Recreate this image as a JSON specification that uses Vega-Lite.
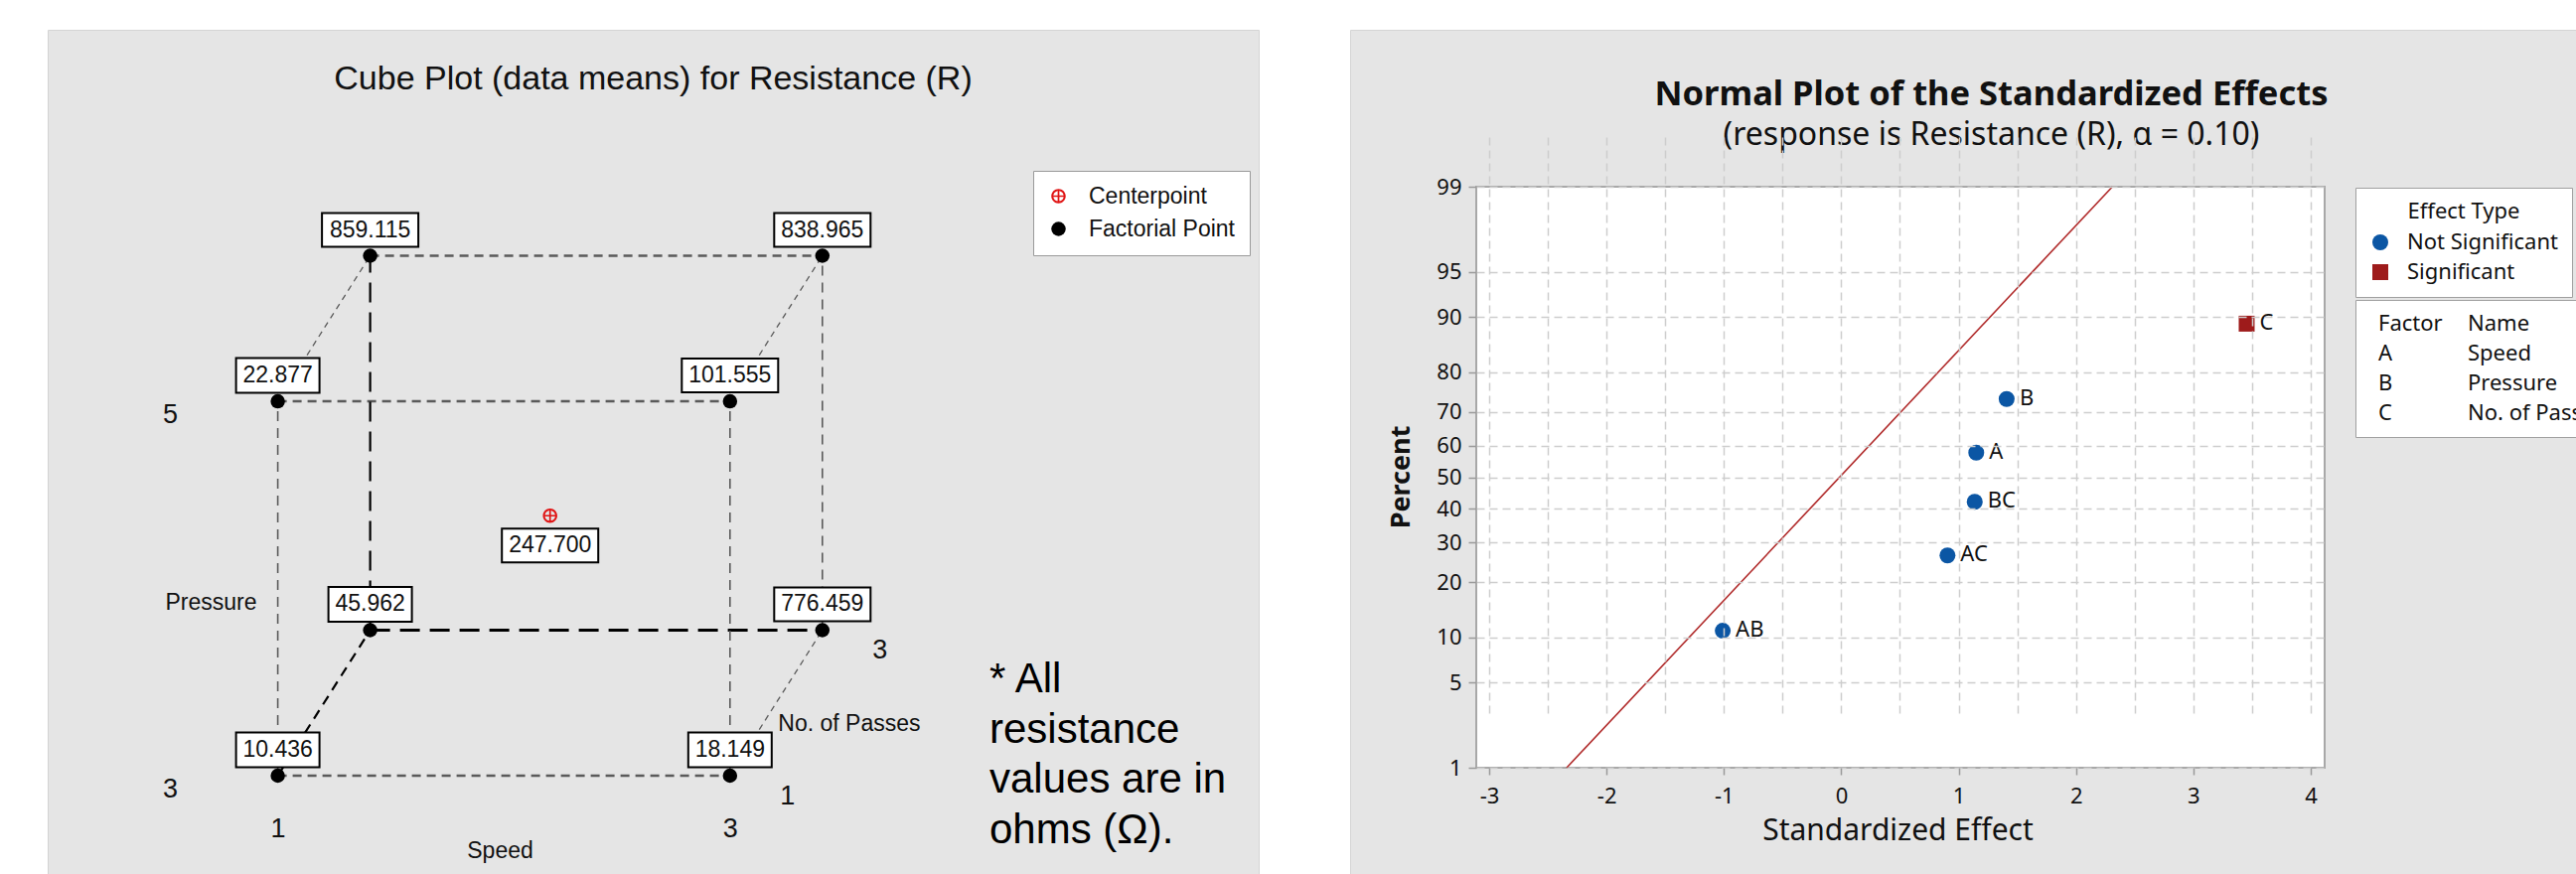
{
  "$schema": "https://vega.github.io/schema/vega-lite/v6.json",
  "background": "#ffffff",
  "padding": {"left": 47, "top": 29, "right": 0, "bottom": 0},
  "spacing": 90,
  "config": {
    "view": {"fill": "#e5e5e5", "stroke": "#d4d4d4", "strokeWidth": 1}
  },
  "datasets": {
    "cube": [
      {"speed": 1, "pressure": 3, "passes": 1, "mean": 10.436, "point": "Factorial Point"},
      {"speed": 3, "pressure": 3, "passes": 1, "mean": 18.149, "point": "Factorial Point"},
      {"speed": 1, "pressure": 5, "passes": 1, "mean": 22.877, "point": "Factorial Point"},
      {"speed": 3, "pressure": 5, "passes": 1, "mean": 101.555, "point": "Factorial Point"},
      {"speed": 1, "pressure": 3, "passes": 3, "mean": 45.962, "point": "Factorial Point"},
      {"speed": 3, "pressure": 3, "passes": 3, "mean": 776.459, "point": "Factorial Point"},
      {"speed": 1, "pressure": 5, "passes": 3, "mean": 859.115, "point": "Factorial Point"},
      {"speed": 3, "pressure": 5, "passes": 3, "mean": 838.965, "point": "Factorial Point"},
      {"speed": 2, "pressure": 4, "passes": 2, "mean": 247.7, "point": "Centerpoint"}
    ],
    "edges": [
      {"s1": 1, "p1": 3, "n1": 1, "s2": 3, "p2": 3, "n2": 1},
      {"s1": 1, "p1": 5, "n1": 1, "s2": 3, "p2": 5, "n2": 1},
      {"s1": 1, "p1": 5, "n1": 3, "s2": 3, "p2": 5, "n2": 3},
      {"s1": 1, "p1": 3, "n1": 3, "s2": 3, "p2": 3, "n2": 3},
      {"s1": 1, "p1": 3, "n1": 1, "s2": 1, "p2": 5, "n2": 1},
      {"s1": 3, "p1": 3, "n1": 1, "s2": 3, "p2": 5, "n2": 1},
      {"s1": 1, "p1": 3, "n1": 3, "s2": 1, "p2": 5, "n2": 3},
      {"s1": 3, "p1": 3, "n1": 3, "s2": 3, "p2": 5, "n2": 3},
      {"s1": 1, "p1": 3, "n1": 1, "s2": 1, "p2": 3, "n2": 3},
      {"s1": 3, "p1": 3, "n1": 1, "s2": 3, "p2": 3, "n2": 3},
      {"s1": 1, "p1": 5, "n1": 1, "s2": 1, "p2": 5, "n2": 3},
      {"s1": 3, "p1": 5, "n1": 1, "s2": 3, "p2": 5, "n2": 3}
    ],
    "effects": [
      {"term": "AB", "effect": -1.01, "score": -1.2295, "type": "Not Significant"},
      {"term": "AC", "effect": 0.905, "score": -0.6261, "type": "Not Significant"},
      {"term": "BC", "effect": 1.137, "score": -0.197, "type": "Not Significant"},
      {"term": "A", "effect": 1.15, "score": 0.197, "type": "Not Significant"},
      {"term": "B", "effect": 1.409, "score": 0.6261, "type": "Not Significant"},
      {"term": "C", "effect": 3.454, "score": 1.2295, "type": "Significant"}
    ],
    "refline": [
      {"effect": -2.34, "score": -2.3263},
      {"effect": 2.31, "score": 2.3263}
    ],
    "factors": [
      {"factor": "A", "name": "Speed"},
      {"factor": "B", "name": "Pressure"},
      {"factor": "C", "name": "No. of Passes"}
    ]
  },
  "resolve": {"scale": {"color": "independent", "shape": "independent", "strokeDash": "independent"}},
  "hconcat": [
    {
      "width": 1219,
      "height": 851,
      "view": {"fill": "#e5e5e5", "stroke": "#d4d4d4"},
      "title": {
        "text": "Cube Plot (data means) for Resistance (R)",
        "anchor": "middle",
        "frame": "group",
        "offset": -67,
        "font": "Liberation Sans",
        "fontSize": 34,
        "fontWeight": "normal",
        "color": "#111111"
      },
      "layer": [
        {
          "data": {"name": "edges"},
          "transform": [
            {"calculate": "datum.s1 + 0.2043 * (datum.n1 - 1)", "as": "x1"},
            {"calculate": "datum.p1 + 0.3886 * (datum.n1 - 1)", "as": "y1"},
            {"calculate": "datum.s2 + 0.2043 * (datum.n2 - 1)", "as": "x2"},
            {"calculate": "datum.p2 + 0.3886 * (datum.n2 - 1)", "as": "y2"}
          ],
          "mark": {"type": "rule"},
          "encoding": {
            "x": {"field": "x1", "type": "quantitative", "scale": {"domain": [-0.0176, 5.3383], "nice": false, "zero": false}},
            "y": {"field": "y1", "type": "quantitative", "scale": {"domain": [2.4695, 6.9841], "nice": false, "zero": false}},
            "x2": {"field": "x2"},
            "y2": {"field": "y2"},
            "stroke": {
              "condition": {"test": "(datum.s1==1&&datum.p1==3&&datum.n1==3)||(datum.s2==1&&datum.p2==3&&datum.n2==3)", "value": "#000000"},
              "value": "#5a5a5a"
            },
            "strokeWidth": {
              "condition": [
                {"test": "((datum.s1==1&&datum.p1==3&&datum.n1==3)||(datum.s2==1&&datum.p2==3&&datum.n2==3))&&datum.s1!=datum.s2", "value": 3},
                {"test": "(datum.s1==1&&datum.p1==3&&datum.n1==3)||(datum.s2==1&&datum.p2==3&&datum.n2==3)", "value": 2.2},
                {"test": "datum.s1!=datum.s2", "value": 2.4},
                {"test": "datum.n1!=datum.n2", "value": 1.3}
              ],
              "value": 1.6
            },
            "strokeDash": {
              "condition": [
                {"test": "((datum.s1==1&&datum.p1==3&&datum.n1==3)||(datum.s2==1&&datum.p2==3&&datum.n2==3))&&datum.n1!=datum.n2", "value": [10, 7]},
                {"test": "(datum.s1==1&&datum.p1==3&&datum.n1==3)||(datum.s2==1&&datum.p2==3&&datum.n2==3)", "value": [20, 10]},
                {"test": "datum.s1!=datum.s2", "value": [9, 6]},
                {"test": "datum.n1!=datum.n2", "value": [6, 5]}
              ],
              "value": [10, 7]
            }
          }
        },
        {
          "data": {"name": "cube"},
          "transform": [
            {"calculate": "datum.speed + 0.2043 * (datum.passes - 1)", "as": "px"},
            {"calculate": "datum.pressure + 0.3886 * (datum.passes - 1)", "as": "py"},
            {"filter": "datum.point == 'Factorial Point' && datum.mean < 100"}
          ],
          "mark": {"type": "point", "shape": "M-1,-0.4167L1,-0.4167L1,0.4167L-1,0.4167Z", "size": 7056, "filled": true, "fill": "#ffffff", "stroke": "#000000", "strokeWidth": 2, "opacity": 1, "yOffset": -26},
          "encoding": {
            "x": {"field": "px", "type": "quantitative", "scale": {"domain": [-0.0176, 5.3383], "nice": false, "zero": false}},
            "y": {"field": "py", "type": "quantitative", "scale": {"domain": [2.4695, 6.9841], "nice": false, "zero": false}}
          }
        },
        {
          "data": {"name": "cube"},
          "transform": [
            {"calculate": "datum.speed + 0.2043 * (datum.passes - 1)", "as": "px"},
            {"calculate": "datum.pressure + 0.3886 * (datum.passes - 1)", "as": "py"},
            {"filter": "datum.point == 'Factorial Point' && datum.mean >= 100"}
          ],
          "mark": {"type": "point", "shape": "M-1,-0.35L1,-0.35L1,0.35L-1,0.35Z", "size": 9409, "filled": true, "fill": "#ffffff", "stroke": "#000000", "strokeWidth": 2, "opacity": 1, "yOffset": -26},
          "encoding": {
            "x": {"field": "px", "type": "quantitative", "scale": {"domain": [-0.0176, 5.3383], "nice": false, "zero": false}},
            "y": {"field": "py", "type": "quantitative", "scale": {"domain": [2.4695, 6.9841], "nice": false, "zero": false}}
          }
        },
        {
          "data": {"name": "cube"},
          "transform": [
            {"calculate": "datum.speed + 0.2043 * (datum.passes - 1)", "as": "px"},
            {"calculate": "datum.pressure + 0.3886 * (datum.passes - 1)", "as": "py"},
            {"filter": "datum.point == 'Centerpoint'"}
          ],
          "mark": {"type": "point", "shape": "M-1,-0.35L1,-0.35L1,0.35L-1,0.35Z", "size": 9409, "filled": true, "fill": "#ffffff", "stroke": "#000000", "strokeWidth": 2, "opacity": 1, "yOffset": 30},
          "encoding": {
            "x": {"field": "px", "type": "quantitative", "scale": {"domain": [-0.0176, 5.3383], "nice": false, "zero": false}},
            "y": {"field": "py", "type": "quantitative", "scale": {"domain": [2.4695, 6.9841], "nice": false, "zero": false}}
          }
        },
        {
          "data": {"name": "cube"},
          "transform": [
            {"calculate": "datum.speed + 0.2043 * (datum.passes - 1)", "as": "px"},
            {"calculate": "datum.pressure + 0.3886 * (datum.passes - 1)", "as": "py"}
          ],
          "mark": {"type": "point", "filled": true, "opacity": 1, "size": 210, "strokeWidth": 0},
          "encoding": {
            "x": {
              "field": "px", "type": "quantitative",
              "scale": {"domain": [-0.0176, 5.3383], "nice": false, "zero": false},
              "axis": {
                "values": [1, 3], "format": "d", "orient": "bottom", "offset": -47, "domain": false, "ticks": false, "tickSize": 0, "grid": false,
                "labelPadding": 0, "labelBaseline": "middle", "labelAlign": "center", "labelFlush": false,
                "labelFont": "Liberation Sans", "labelFontSize": 27, "labelColor": "#111111",
                "title": "Speed", "titleFont": "Liberation Sans", "titleFontSize": 23, "titleFontWeight": "normal", "titleColor": "#111111",
                "titleX": 455, "titleY": 22, "titleAlign": "center", "titleBaseline": "middle"
              }
            },
            "y": {
              "field": "py", "type": "quantitative",
              "scale": {"domain": [2.4695, 6.9841], "nice": false, "zero": false},
              "axis": {
                "values": [3, 5], "format": "d", "orient": "left", "offset": -123, "domain": false, "ticks": false, "tickSize": 0, "grid": false,
                "labelPadding": 0, "labelAlign": "center", "labelBaseline": "middle", "labelOffset": 13, "labelFlush": false,
                "labelFont": "Liberation Sans", "labelFontSize": 27, "labelColor": "#111111",
                "title": "Pressure", "titleFont": "Liberation Sans", "titleFontSize": 23, "titleFontWeight": "normal", "titleColor": "#111111",
                "titleAngle": 0, "titleX": 41, "titleY": 576, "titleAlign": "center", "titleBaseline": "middle"
              }
            },
            "color": {
              "field": "point", "type": "nominal",
              "scale": {"domain": ["Centerpoint", "Factorial Point"], "range": ["#e01414", "#000000"]},
              "legend": {
                "orient": "none", "legendX": 992, "legendY": 142, "title": null,
                "fillColor": "#ffffff", "strokeColor": "#9a9a9a", "padding": 14,
                "labelFont": "Liberation Sans", "labelFontSize": 23, "labelColor": "#111111", "labelLimit": 400,
                "symbolSize": 210, "symbolStrokeWidth": 0, "rowPadding": 9, "labelOffset": 19
              }
            },
            "shape": {
              "field": "point", "type": "nominal",
              "scale": {"domain": ["Centerpoint", "Factorial Point"], "range": ["M0,-1A1,1,0,1,1,0,1A1,1,0,1,1,0,-1ZM0,-0.72A0.72,0.72,0,1,0,0,0.72A0.72,0.72,0,1,0,0,-0.72ZM-0.12,-0.9L0.12,-0.9L0.12,0.9L-0.12,0.9ZM-0.9,-0.12L0.9,-0.12L0.9,0.12L-0.9,0.12Z", "circle"]},
              "legend": {
                "orient": "none", "legendX": 992, "legendY": 142, "title": null,
                "fillColor": "#ffffff", "strokeColor": "#9a9a9a", "padding": 14,
                "labelFont": "Liberation Sans", "labelFontSize": 23, "labelColor": "#111111", "labelLimit": 400,
                "symbolSize": 210, "symbolStrokeWidth": 0, "rowPadding": 9, "labelOffset": 19
              }
            }
          }
        },
        {
          "data": {"name": "cube"},
          "transform": [
            {"calculate": "datum.speed + 0.2043 * (datum.passes - 1)", "as": "px"},
            {"calculate": "datum.pressure + 0.3886 * (datum.passes - 1)", "as": "py"},
            {"filter": "datum.point == 'Factorial Point'"}
          ],
          "mark": {"type": "text", "font": "Liberation Sans", "fontSize": 23, "color": "#111111", "yOffset": -26, "baseline": "middle", "align": "center"},
          "encoding": {
            "x": {"field": "px", "type": "quantitative", "scale": {"domain": [-0.0176, 5.3383], "nice": false, "zero": false}},
            "y": {"field": "py", "type": "quantitative", "scale": {"domain": [2.4695, 6.9841], "nice": false, "zero": false}},
            "text": {"field": "mean", "type": "quantitative", "format": ".3f"}
          }
        },
        {
          "data": {"name": "cube"},
          "transform": [
            {"calculate": "datum.speed + 0.2043 * (datum.passes - 1)", "as": "px"},
            {"calculate": "datum.pressure + 0.3886 * (datum.passes - 1)", "as": "py"},
            {"filter": "datum.point == 'Centerpoint'"}
          ],
          "mark": {"type": "text", "font": "Liberation Sans", "fontSize": 23, "color": "#111111", "yOffset": 30, "baseline": "middle", "align": "center"},
          "encoding": {
            "x": {"field": "px", "type": "quantitative", "scale": {"domain": [-0.0176, 5.3383], "nice": false, "zero": false}},
            "y": {"field": "py", "type": "quantitative", "scale": {"domain": [2.4695, 6.9841], "nice": false, "zero": false}},
            "text": {"field": "mean", "type": "quantitative", "format": ".3f"}
          }
        },
        {
          "data": {"name": "cube"},
          "transform": [
            {"calculate": "datum.speed + 0.2043 * (datum.passes - 1)", "as": "px"},
            {"calculate": "datum.pressure + 0.3886 * (datum.passes - 1)", "as": "py"},
            {"filter": "datum.speed == 3 && datum.pressure == 3"}
          ],
          "mark": {"type": "text", "font": "Liberation Sans", "fontSize": 27, "color": "#111111", "dx": 58, "dy": 21, "baseline": "middle", "align": "center"},
          "encoding": {
            "x": {"field": "px", "type": "quantitative", "scale": {"domain": [-0.0176, 5.3383], "nice": false, "zero": false}},
            "y": {"field": "py", "type": "quantitative", "scale": {"domain": [2.4695, 6.9841], "nice": false, "zero": false}},
            "text": {"field": "passes", "type": "quantitative", "format": "d"}
          }
        },
        {
          "data": {"values": [{}]},
          "mark": {"type": "text", "font": "Liberation Sans", "fontSize": 23, "color": "#111111", "dx": 2, "dy": 21, "baseline": "middle", "align": "left"},
          "encoding": {
            "x": {"datum": 3.2043, "type": "quantitative", "scale": {"domain": [-0.0176, 5.3383], "nice": false, "zero": false}},
            "y": {"datum": 3.3886, "type": "quantitative", "scale": {"domain": [2.4695, 6.9841], "nice": false, "zero": false}},
            "text": {"value": "No. of Passes"}
          }
        },
        {
          "data": {"values": [{}]},
          "mark": {"type": "text", "font": "Liberation Sans", "fontSize": 42, "lineHeight": 50.5, "color": "#000000", "baseline": "alphabetic", "align": "left"},
          "encoding": {
            "x": {"datum": 4.1476, "type": "quantitative", "scale": {"domain": [-0.0176, 5.3383], "nice": false, "zero": false}},
            "y": {"datum": 3.4456, "type": "quantitative", "scale": {"domain": [2.4695, 6.9841], "nice": false, "zero": false}},
            "text": {"value": ["* All", "resistance", "values are in", "ohms (Ω)."]}
          }
        }
      ]
    },
    {
      "width": 1237,
      "height": 851,
      "view": {"fill": "#e5e5e5", "stroke": "#d4d4d4"},
      "title": {
        "text": "Normal Plot of the Standardized Effects",
        "subtitle": "(response is Resistance (R), α = 0.10)",
        "anchor": "middle",
        "frame": "group",
        "offset": -123,
        "dx": 27,
        "font": "Noto Sans",
        "fontSize": 34.5,
        "fontWeight": "bold",
        "color": "#111111",
        "subtitleFont": "Noto Sans",
        "subtitleFontSize": 32,
        "subtitleColor": "#111111",
        "subtitlePadding": 8
      },
      "layer": [
        {
          "data": {"values": [{}]},
          "mark": {"type": "rect", "fill": "#ffffff", "stroke": "#a8a8a8", "strokeWidth": 2},
          "encoding": {
            "x": {"datum": -3.11, "type": "quantitative", "scale": {"domain": [-3.11, 4.1185], "range": [127, 981], "nice": false, "zero": false}},
            "x2": {"datum": 4.1185},
            "y": {"datum": -2.3263, "type": "quantitative", "scale": {"domain": [-2.3263, 2.3263], "range": [743, 158], "nice": false, "zero": false}},
            "y2": {"datum": 2.3263}
          }
        },
        {
          "data": {"name": "refline"},
          "mark": {"type": "line", "color": "#b02a2a", "strokeWidth": 1.6},
          "encoding": {
            "x": {"field": "effect", "type": "quantitative", "scale": {"domain": [-3.11, 4.1185], "range": [127, 981], "nice": false, "zero": false}},
            "y": {"field": "score", "type": "quantitative", "scale": {"domain": [-2.3263, 2.3263], "range": [743, 158], "nice": false, "zero": false}}
          }
        },
        {
          "data": {"name": "effects"},
          "mark": {"type": "point", "filled": true, "opacity": 1, "size": 256, "strokeWidth": 0},
          "encoding": {
            "x": {
              "field": "effect", "type": "quantitative",
              "scale": {"domain": [-3.11, 4.1185], "range": [127, 981], "nice": false, "zero": false},
              "axis": {
                "values": [-3, -2.5, -2, -1.5, -1, -0.5, 0, 0.5, 1, 1.5, 2, 2.5, 3, 3.5, 4],
                "labelExpr": "datum.value % 1 === 0 ? toString(datum.value) : ''",
                "orient": "bottom", "offset": -108, "domain": false,
                "tickSize": 7, "tickColor": "#9a9a9a", "tickWidth": 1.5,
                "tickOpacity": {"condition": {"test": "datum.value % 1 !== 0", "value": 0}, "value": 1},
                "grid": true, "gridDash": [8, 5], "gridColor": "#cdcdcd", "gridWidth": 1.5,
                "labelFont": "Noto Sans", "labelFontSize": 22, "labelColor": "#111111", "labelPadding": 11,
                "labelFlush": false, "labelOverlap": false,
                "title": "Standardized Effect", "titleFont": "Noto Sans", "titleFontSize": 30, "titleFontWeight": "normal", "titleColor": "#111111",
                "titleX": 551, "titleY": 72, "titleAlign": "center", "titleBaseline": "alphabetic",
                "zindex": 1
              }
            },
            "y": {
              "field": "score", "type": "quantitative",
              "scale": {"domain": [-2.3263, 2.3263], "range": [743, 158], "nice": false, "zero": false},
              "axis": {
                "values": [-2.3263, -1.6449, -1.2816, -0.8416, -0.5244, -0.2533, 0, 0.2533, 0.5244, 0.8416, 1.2816, 1.6449, 2.3263],
                "labelExpr": "format(cumulativeNormal(datum.value) * 100, '.0f')",
                "orient": "left", "offset": -127, "domain": false,
                "tickSize": 8, "tickColor": "#9a9a9a", "tickWidth": 1.5,
                "grid": true, "gridDash": [8, 5], "gridColor": "#cdcdcd", "gridWidth": 1.5,
                "labelFont": "Noto Sans", "labelFontSize": 22, "labelColor": "#111111", "labelPadding": 7,
                "labelFlush": false, "labelOverlap": false,
                "title": "Percent", "titleFont": "Noto Sans", "titleFontSize": 27, "titleFontWeight": "bold", "titleColor": "#111111",
                "titleAngle": -90, "titleX": -76, "titleY": 450, "titleAlign": "center", "titleBaseline": "middle",
                "zindex": 1
              }
            },
            "color": {
              "field": "type", "type": "nominal",
              "scale": {"domain": ["Not Significant", "Significant"], "range": ["#0b56a4", "#9e1b1b"]},
              "legend": {
                "orient": "none", "legendX": 1012, "legendY": 159, "title": "Effect Type", "titleAnchor": "middle",
                "titleFont": "Noto Sans", "titleFontSize": 22, "titleFontWeight": "normal", "titleColor": "#111111", "titlePadding": 8,
                "labelFont": "Noto Sans", "labelFontSize": 22, "labelColor": "#111111", "labelLimit": 400,
                "symbolSize": 256, "symbolStrokeWidth": 0, "labelOffset": 16, "rowPadding": 8, "padding": 14,
                "fillColor": "#ffffff", "strokeColor": "#a0a0a0"
              }
            },
            "shape": {
              "field": "type", "type": "nominal",
              "scale": {"domain": ["Not Significant", "Significant"], "range": ["circle", "square"]},
              "legend": {
                "orient": "none", "legendX": 1012, "legendY": 159, "title": "Effect Type", "titleAnchor": "middle",
                "titleFont": "Noto Sans", "titleFontSize": 22, "titleFontWeight": "normal", "titleColor": "#111111", "titlePadding": 8,
                "labelFont": "Noto Sans", "labelFontSize": 22, "labelColor": "#111111", "labelLimit": 400,
                "symbolSize": 256, "symbolStrokeWidth": 0, "labelOffset": 16, "rowPadding": 8, "padding": 14,
                "fillColor": "#ffffff", "strokeColor": "#a0a0a0"
              }
            }
          }
        },
        {
          "data": {"name": "effects"},
          "mark": {"type": "text", "align": "left", "baseline": "middle", "dx": 13, "dy": -1, "font": "Noto Sans", "fontSize": 22, "color": "#111111"},
          "encoding": {
            "x": {"field": "effect", "type": "quantitative", "scale": {"domain": [-3.11, 4.1185], "range": [127, 981], "nice": false, "zero": false}},
            "y": {"field": "score", "type": "quantitative", "scale": {"domain": [-2.3263, 2.3263], "range": [743, 158], "nice": false, "zero": false}},
            "text": {"field": "term", "type": "nominal"}
          }
        },
        {
          "data": {"name": "factors"},
          "transform": [{"fold": ["factor", "name"], "as": ["column", "cell"]}],
          "mark": {"type": "point", "opacity": 0},
          "encoding": {
            "strokeDash": {
              "field": "cell", "type": "nominal",
              "scale": {"domain": ["Factor", "A", "B", "C", "Name", "Speed", "Pressure", "No. of Passes"]},
              "legend": {
                "orient": "none", "legendX": 1012, "legendY": 272, "title": null, "columns": 2, "columnPadding": 15,
                "symbolType": "circle", "symbolSize": 0, "symbolOpacity": 0, "symbolStrokeWidth": 0, "labelOffset": -12,
                "labelFont": "Noto Sans", "labelFontSize": 22, "labelColor": "#111111", "labelLimit": 400,
                "rowPadding": 8, "padding": 13, "fillColor": "#ffffff", "strokeColor": "#a0a0a0"
              }
            }
          }
        }
      ]
    }
  ]
}
